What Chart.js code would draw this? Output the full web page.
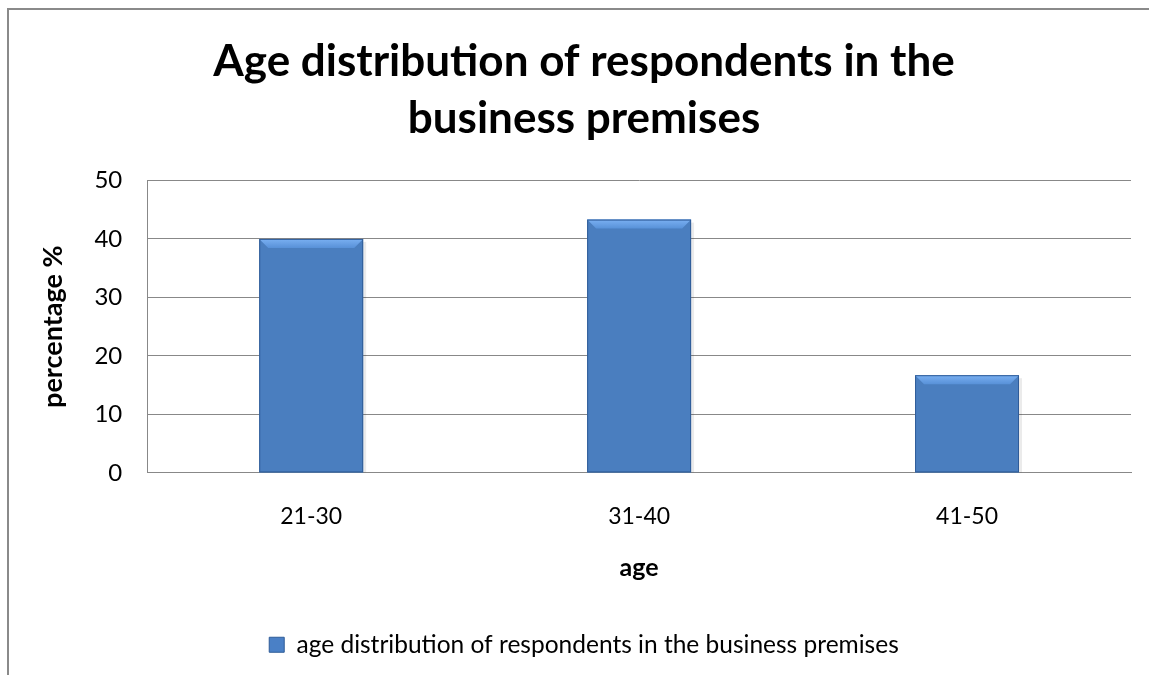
<!DOCTYPE html>
<html>
<head>
<meta charset="utf-8">
<script src="https://cdn.jsdelivr.net/npm/chart.js@4.4.0/dist/chart.umd.min.js"></script>
<style>
  body { margin: 0; background: #fff; }
  #wrap { position: relative; width: 1149px; height: 675px; overflow: hidden; }
  #frame { position: absolute; left: 7px; top: 8px; width: 1200px; height: 700px;
           border-left: 2px solid #8a8a8a; border-top: 2px solid #8a8a8a; }
  canvas { position: absolute; left: 0; top: 0; }
</style>
</head>
<body>
<div id="wrap">
  <div id="frame"></div>
  <canvas id="ageChart" width="1149" height="675"></canvas>
</div>
<script>
const categories = ["21-30", "31-40", "41-50"]
const percentages = [40, 43.3, 16.7]
const seriesName = "age distribution of respondents in the business premises"
const chartTitle = ["Age distribution of respondents in the", "business premises"]

const FONT = "Lato, 'Open Sans', sans-serif"

// bar face: darker at the edges, lighter in the middle
function barFill(ctx){
    const el = ctx.element
    if(!el || !el.width) return "#4a7ebf"
    const c = ctx.chart.ctx
    const g = c.createLinearGradient(el.x - el.width/2, 0, el.x + el.width/2, 0)
    g.addColorStop(0, "#3a6cae")
    g.addColorStop(0.07, "#4a80c6")
    g.addColorStop(0.5, "#4c86cf")
    g.addColorStop(0.93, "#4a80c6")
    g.addColorStop(1, "#3a6cae")
    return g
}

// top bevel + soft shadow like the office chart
const bevel = {
    id: "bevel",
    beforeDatasetsDraw(chart){
        const c = chart.ctx
        chart.getDatasetMeta(0).data.forEach(b => {
            const l = b.x - b.width/2
            c.save()
            c.fillStyle = "rgba(0,0,0,0.08)"
            c.fillRect(l + 3, b.y + 3, b.width, b.base - b.y - 3)
            c.restore()
        })
    },
    afterDatasetsDraw(chart){
        const c = chart.ctx
        chart.getDatasetMeta(0).data.forEach(b => {
            const l = b.x - b.width/2, r = b.x + b.width/2, t = b.y, h = 9
            c.save()
            const g = c.createLinearGradient(0, t, 0, t + h)
            g.addColorStop(0, "#7ab0f2")
            g.addColorStop(1, "#5891d8")
            c.fillStyle = g
            c.beginPath()
            c.moveTo(l, t); c.lineTo(r, t); c.lineTo(r - h, t + h); c.lineTo(l + h, t + h)
            c.closePath(); c.fill()
            c.strokeStyle = "#2f5c98"
            c.lineWidth = 1
            c.strokeRect(l + 0.5, t + 0.5, b.width - 1, b.base - t - 1)
            c.restore()
        })
    }
}

new Chart(document.getElementById("ageChart"), {
    type: "bar",
    data: {
        labels: categories,
        datasets: [{
            label: seriesName,
            data: percentages,
            backgroundColor: barFill,
            borderWidth: 0,
            categoryPercentage: 1,
            barPercentage: 0.317,
        }]
    },
    plugins: [bevel],
    options: {
        responsive: false,
        animation: false,
        layout: { padding: { left: 37, right: 18, top: 33, bottom: 8 } },
        plugins: {
            title: {
                display: true,
                text: chartTitle,
                color: "#000",
                font: { family: FONT, size: 44, weight: "bold", lineHeight: 1.3 },
                padding: { top: 0, bottom: 33 }
            },
            legend: {
                position: "bottom",
                labels: {
                    color: "#000",
                    font: { family: FONT, size: 24.5 },
                    boxWidth: 15, boxHeight: 15,
                    padding: 12,
                    generateLabels: chart => [{
                        text: seriesName,
                        fillStyle: "#4a80c6",
                        strokeStyle: "#2f5c98",
                        lineWidth: 1,
                        datasetIndex: 0
                    }]
                }
            },
            tooltip: { enabled: false }
        },
        scales: {
            x: {
                grid: { display: false },
                border: { display: true, color: "#888", width: 1 },
                ticks: { color: "#000", font: { family: FONT, size: 23 }, padding: 22 },
                title: { display: true, text: "age", color: "#000",
                         font: { family: FONT, size: 25, weight: "bold" }, padding: { top: 0, bottom: 38 } }
            },
            y: {
                min: 0, max: 50,
                ticks: { stepSize: 10, color: "#000", font: { family: FONT, size: 24 }, padding: 25 },
                grid: { color: "#888", drawTicks: false },
                border: { display: true, color: "#888", width: 1 },
                title: { display: true, text: "percentage %", color: "#000",
                         font: { family: FONT, size: 27, weight: "bold" }, padding: 0 }
            }
        }
    }
})
</script>
</body>
</html>
